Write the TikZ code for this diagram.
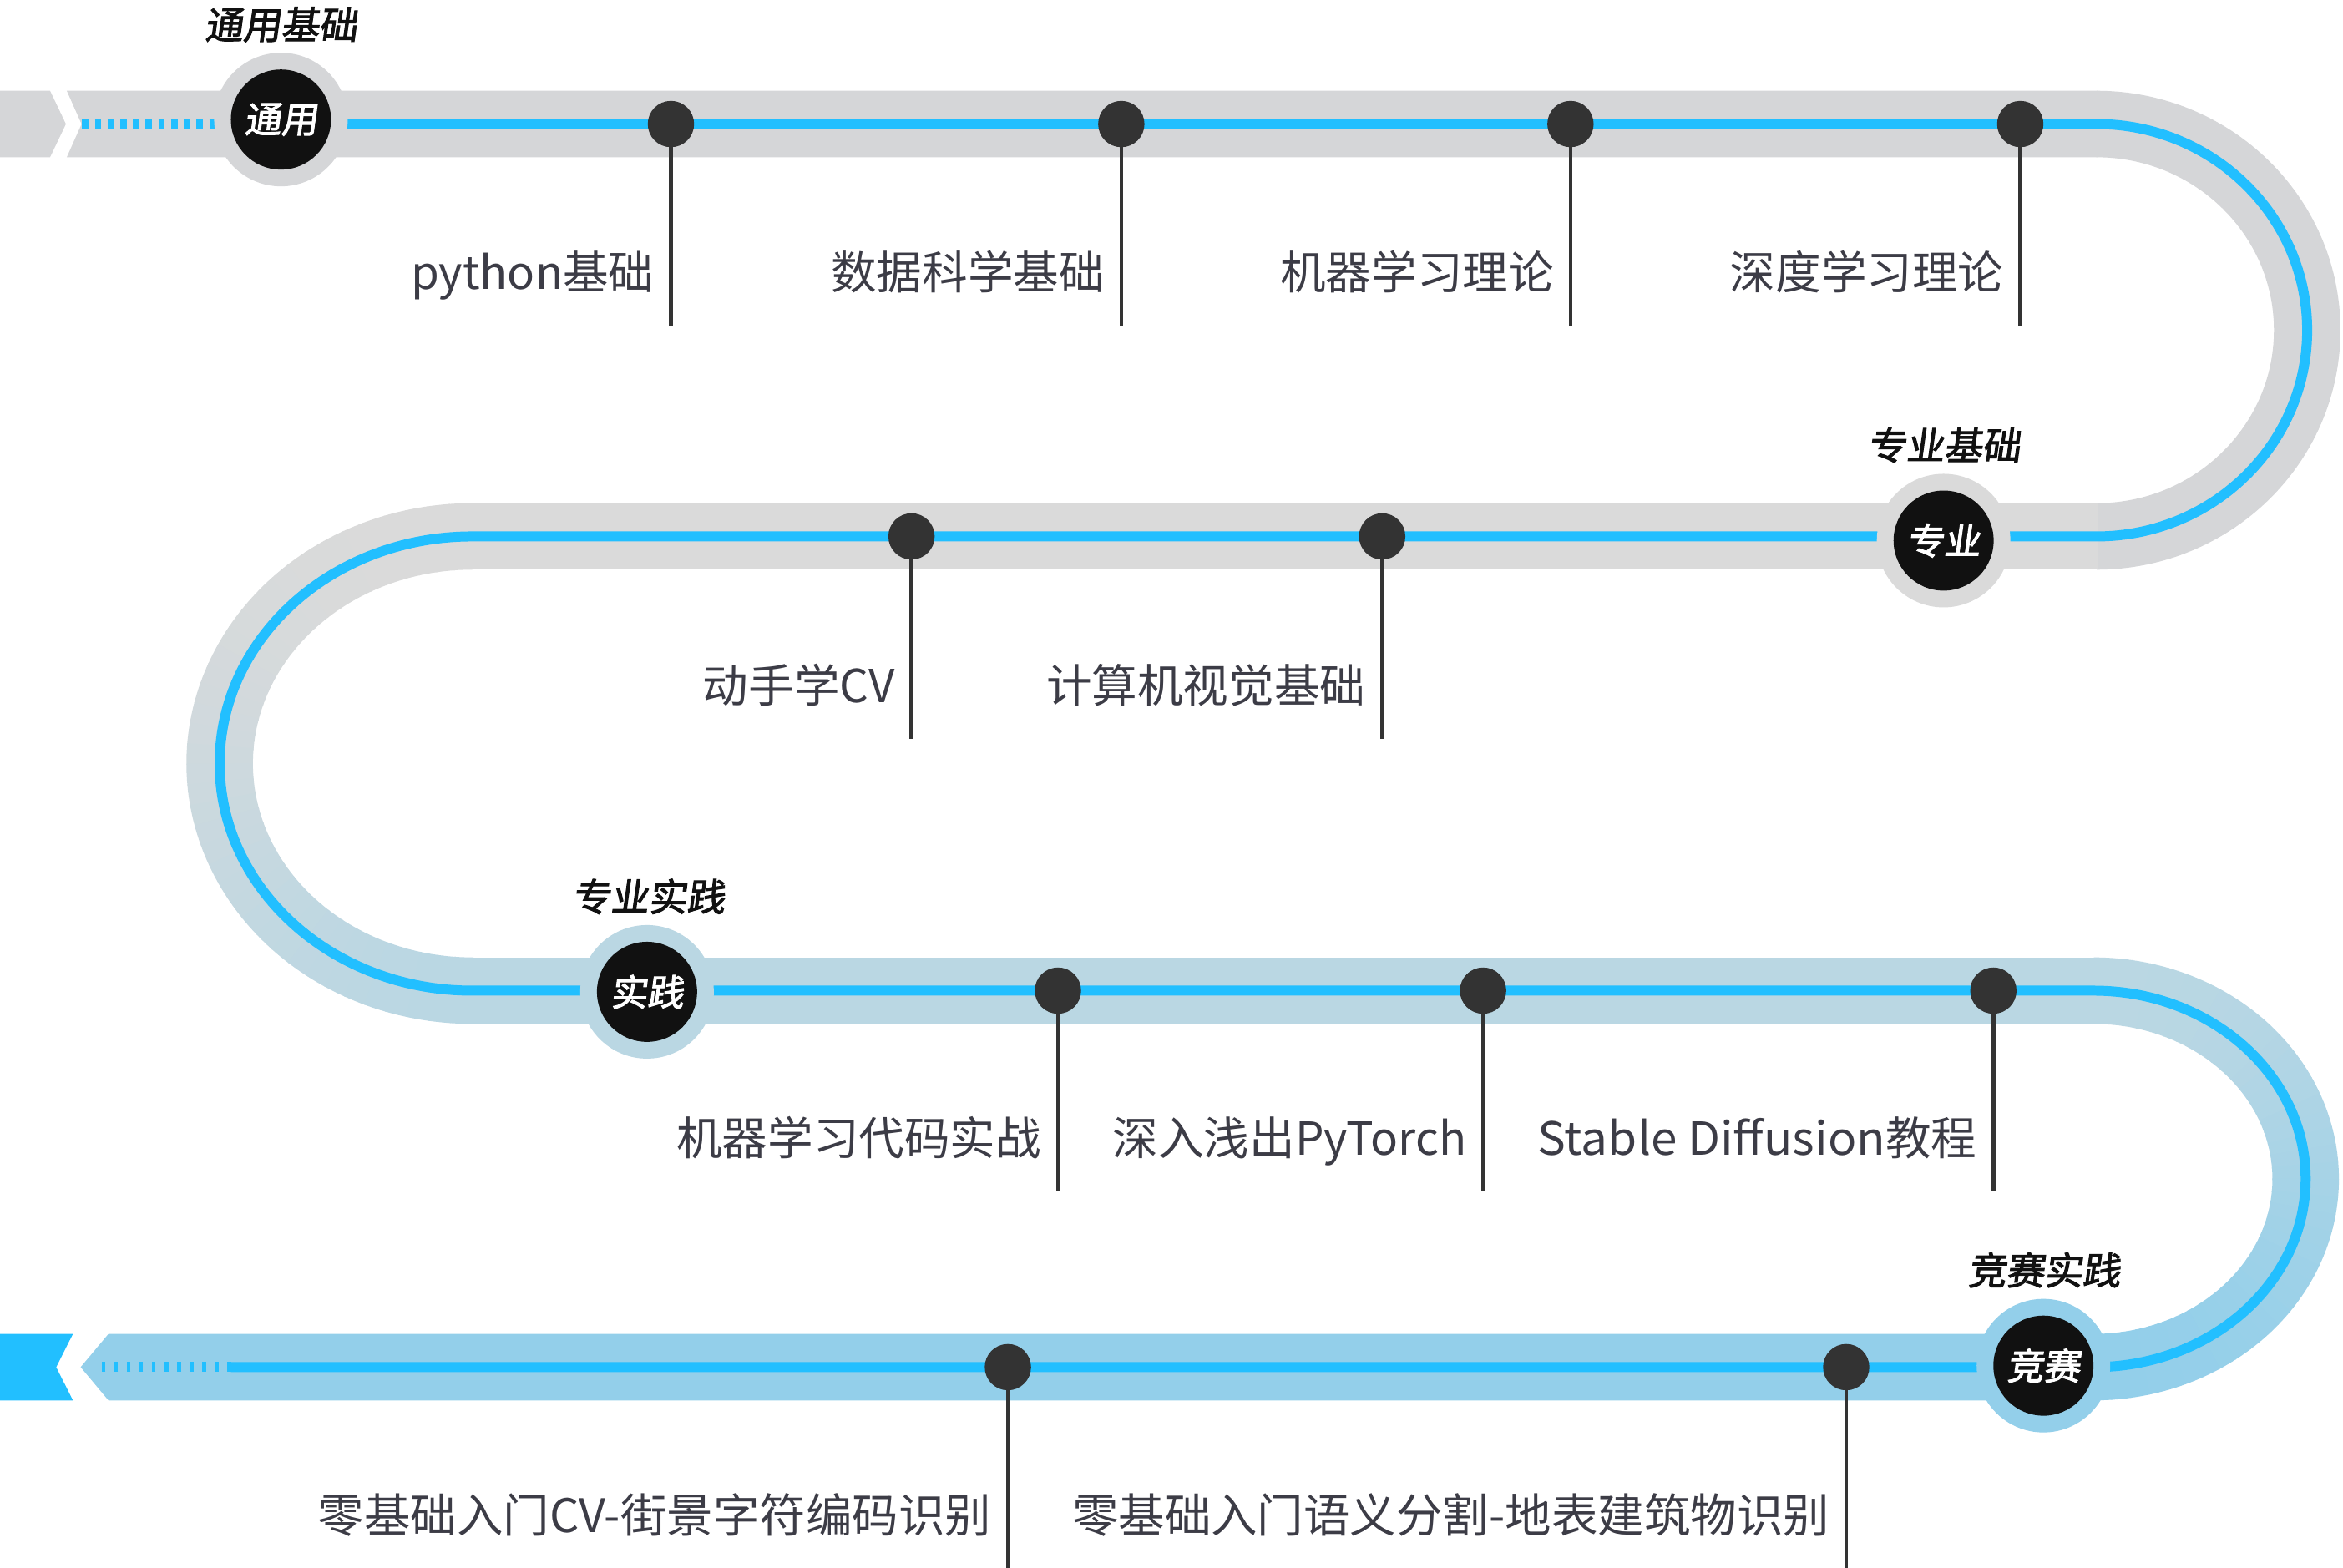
\documentclass[tikz,border=0pt]{standalone}
\usepackage{fontspec}
\newfontfamily\lblfont{Noto Sans CJK SC}
\newfontfamily\ttlfont{Noto Sans CJK SC}[FakeSlant=0.14, FakeBold=2.2]
\usetikzlibrary{calc}
\definecolor{gA}{HTML}{D5D6D8}
\definecolor{gB}{HTML}{DADADA}
\definecolor{bA}{HTML}{BAD7E3}
\definecolor{bB}{HTML}{93CFEA}
\definecolor{lineblue}{HTML}{22BFFF}
\definecolor{dotc}{HTML}{333333}
\definecolor{txt}{HTML}{3C3C46}
\definecolor{ink}{HTML}{111111}
\begin{document}
\begin{tikzpicture}[x=1pt,y=-1pt,
  band/.style={line width=44.5pt},
  track/.style={line width=6.7pt, draw=lineblue},
  stop/.style={circle, fill=dotc, minimum size=31pt, inner sep=0pt},
  stem/.style={draw=dotc, line width=2.5pt},
  lbl/.style={anchor=base east, inner sep=0pt, text=txt, font=\lblfont\fontsize{30.5}{36}\selectfont},
  lblwide/.style={lbl, font=\lblfont\fontsize{31}{36}\selectfont},
  ring/.style={circle, minimum size=89.4pt, inner sep=0pt},
  core/.style={circle, fill=ink, minimum size=67pt, inner sep=0pt, text=white, font=\ttlfont\fontsize{24.5}{28}\selectfont},
  ttl/.style={inner sep=0pt, text=ink, font=\ttlfont\fontsize{25.5}{30}\selectfont},
]
\useasboundingbox (0,0) rectangle (1568,1049.4);
\fill[white] (0,0) rectangle (1568,1049.4);

% ---- band (background track) ----
\fill[gA] (0,60.75) -- (33.5,60.75) -- (44.1,83) -- (33.5,105.25) -- (0,105.25) -- cycle;
\fill[gA] (44.7,60.75) -- (1403.5,60.75) -- (1403.5,105.25) -- (44.7,105.25) -- (54.6,83) -- cycle;
\draw[band, draw=gA] (1403,83) arc[start angle=-90, end angle=90, x radius=141, y radius=138];
\draw[band, draw=gB] (1403.5,359) -- (315.5,359);
\coordinate (cL) at (316,511);
\foreach \i in {0,...,39}{
  \pgfmathsetmacro\a{270-4.5*\i}
  \pgfmathsetmacro\b{\a-4.8}
  \pgfmathtruncatemacro\p{round(100*((1+sin(\a-2.25))/2)^1.4)}
  \draw[band, draw=bA!\p!gB] ($(cL)+(\a:169 and 152)$) arc[start angle=\a, end angle=\b, x radius=169, y radius=152];
}
\draw[band, draw=bA] (315.5,663) -- (1401.5,663);
\coordinate (cR) at (1401,789);
\foreach \i in {0,...,39}{
  \pgfmathsetmacro\a{-90+4.5*\i}
  \pgfmathsetmacro\b{\a+4.8}
  \pgfmathtruncatemacro\p{round(50*(1+sin(\a+2.25)))}
  \draw[band, draw=bB!\p!bA] ($(cR)+(\a:142 and 126)$) arc[start angle=\a, end angle=\b, x radius=142, y radius=126];
}
\fill[bB] (1401.5,892.75) -- (72.6,892.75) -- (54,915) -- (72.6,937.25) -- (1401.5,937.25) -- cycle;
\fill[lineblue] (0,892.75) -- (48.8,892.75) -- (37.6,915) -- (48.8,937.25) -- (0,937.25) -- cycle;

% ---- blue route ----
\draw[track, dash pattern=on 4.3pt off 4.2pt] (55,83) -- (145,83);
\draw[track] (188,83) -- (1403,83)
  arc[start angle=-90, end angle=90, x radius=141, y radius=138] -- (316,359)
  arc[start angle=270, end angle=90, x radius=169, y radius=152] -- (1401,663)
  arc[start angle=-90, end angle=90, x radius=142, y radius=126] -- (154.6,915);
\draw[track, dash pattern=on 2.6pt off 5.8pt] (154.6,915) -- (65.2,915);

% ---- stops row 1 ----
\foreach \n/\x/\t in {11/449/python基础, 12/750.4/数据科学基础, 13/1051/机器学习理论, 14/1352/深度学习理论}{
  \coordinate (e\n) at (\x,218);
  \draw[stem] (\x,83) -- (e\n);
  \node[stop] (d\n) at (\x,83) {};
  \node[lbl] (l\n) at (\x-11,193.5) {\t};
}
% ---- stops row 2 ----
\foreach \n/\x/\t in {21/610/动手学CV, 22/925/计算机视觉基础}{
  \coordinate (e\n) at (\x,494.5);
  \draw[stem] (\x,359) -- (e\n);
  \node[stop] (d\n) at (\x,359) {};
  \node[lbl] (l\n) at (\x-11,470) {\t};
}
% ---- stops row 3 ----
\foreach \n/\x/\t in {31/708/机器学习代码实战, 32/992.5/深入浅出PyTorch, 33/1334/{\scalebox{1.04}[1]{Stable Diffusion}教程}}{
  \coordinate (e\n) at (\x,797);
  \draw[stem] (\x,663) -- (e\n);
  \node[stop] (d\n) at (\x,663) {};
  \node[lbl] (l\n) at (\x-11,773) {\t};
}
% ---- stops row 4 ----
\foreach \n/\x/\t in {41/674.5/零基础入门CV-街景字符编码识别, 42/1235.5/零基础入门语义分割-地表建筑物识别}{
  \coordinate (e\n) at (\x,1049.4);
  \draw[stem] (\x,915) -- (e\n);
  \node[stop] (d\n) at (\x,915) {};
  \node[lblwide] (l\n) at (\x-11,1025.5) {\t};
}

% ---- milestones ----
\node[ring, fill=gA] (r1) at (188,80) {};
\node[core] (m1) at (188,80) {通用};
\node[ttl] (t1) at (188,16.5) {通用基础};
\node[ring, fill=gB] (r2) at (1300.7,361.8) {};
\node[core] (m2) at (1300.7,361.8) {专业};
\node[ttl] (t2) at (1301,298) {专业基础};
\node[ring, fill=bA] (r3) at (433,663.8) {};
\node[core] (m3) at (433,663.8) {实践};
\node[ttl] (t3) at (434,600) {专业实践};
\node[ring, fill=bB] (r4) at (1367.5,914) {};
\node[core] (m4) at (1367.5,914) {竞赛};
\node[ttl] (t4) at (1368,850) {竞赛实践};
\end{tikzpicture}
\end{document}
